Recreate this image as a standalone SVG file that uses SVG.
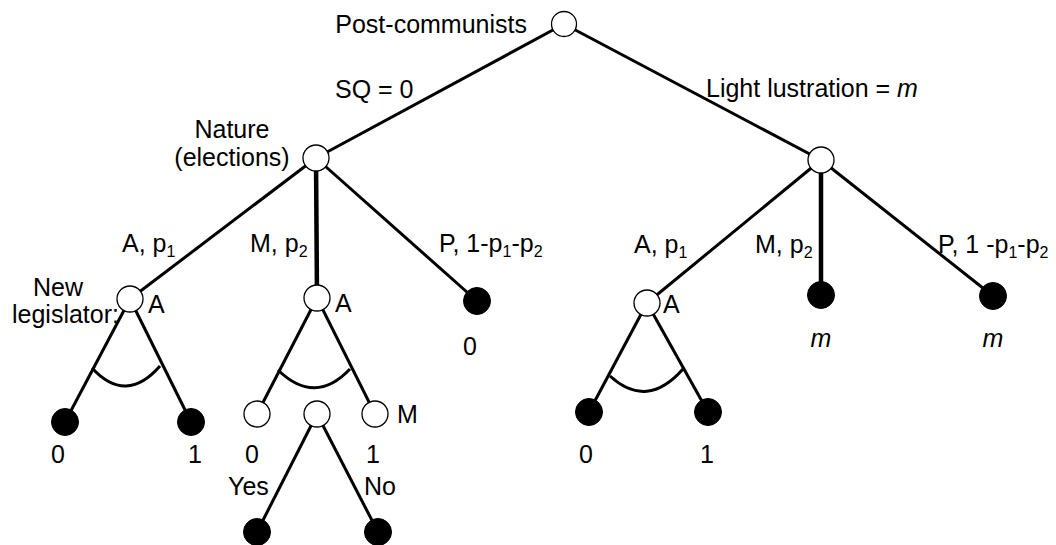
<svg xmlns="http://www.w3.org/2000/svg" width="1056" height="545" viewBox="0 0 1056 545">
<style>
text{font-family:"Liberation Sans",Arial,sans-serif;font-size:25px;fill:#000}
.s{font-size:16px}
.e{stroke:#000;stroke-width:3;fill:none}
.v{stroke:#000;stroke-width:4.5;fill:none}
.o{fill:#fff;stroke:#000;stroke-width:1.3}
.f{fill:#000;stroke:#000;stroke-width:1}
.i{font-style:italic}
</style>
<rect width="1056" height="545" fill="#fff"/>
<g id="connectors">
<line class="e" x1="564" y1="24" x2="316" y2="158"/>
<line class="e" x1="564" y1="24" x2="821" y2="160"/>
<line class="e" x1="316" y1="158" x2="130" y2="299"/>
<line class="v" x1="316" y1="158" x2="317" y2="298"/>
<line class="e" x1="316" y1="158" x2="477" y2="301"/>
<line class="e" x1="821" y1="160" x2="647" y2="303"/>
<line class="v" x1="821" y1="160" x2="821" y2="295"/>
<line class="e" x1="821" y1="160" x2="993" y2="296"/>
<line class="e" x1="130" y1="299" x2="65" y2="422"/>
<line class="e" x1="130" y1="299" x2="191" y2="422"/>
<line class="e" x1="317" y1="298" x2="257" y2="414"/>
<line class="e" x1="317" y1="298" x2="375" y2="414"/>
<line class="e" x1="317" y1="414" x2="257" y2="532"/>
<line class="e" x1="317" y1="414" x2="378" y2="532"/>
<line class="e" x1="647" y1="303" x2="589" y2="412"/>
<line class="e" x1="647" y1="303" x2="708" y2="412"/>
<path class="e" d="M92,368 Q126,405 160,366"/>
<path class="e" d="M278,370 Q315,406 350,369"/>
<path class="e" d="M610,376 Q647,410 683,369"/>
</g>
<g id="edge-labels">
<text x="335" y="98">SQ = 0</text>
<text x="706" y="97">Light lustration = <tspan class="i">m</tspan></text>
<text x="122" y="252">A, p<tspan class="s" dy="5">1</tspan></text>
<text x="250" y="252">M, p<tspan class="s" dy="5">2</tspan></text>
<text x="439" y="252">P, 1-p<tspan class="s" dy="5">1</tspan><tspan dy="-5">-p</tspan><tspan class="s" dy="5">2</tspan></text>
<text x="634" y="253">A, p<tspan class="s" dy="5">1</tspan></text>
<text x="755" y="253">M, p<tspan class="s" dy="5">2</tspan></text>
<text x="938" y="253">P, 1 -p<tspan class="s" dy="5">1</tspan><tspan dy="-5">-p</tspan><tspan class="s" dy="5">2</tspan></text>
<text x="228" y="495">Yes</text>
<text x="364" y="495">No</text>
</g>
<g id="root"><circle class="o" cx="564" cy="24" r="12.5"/><text x="527" y="33" text-anchor="end">Post-communists</text></g>
<g id="nature-left"><circle class="o" cx="316" cy="158" r="13"/><text x="232" y="138" text-anchor="middle">Nature</text><text x="232" y="166" text-anchor="middle">(elections)</text></g>
<g id="nature-right"><circle class="o" cx="821" cy="160" r="13"/></g>
<g id="legislator-A"><circle class="o" cx="130" cy="299" r="13"/><text x="148" y="313">A</text><text x="33" y="296">New</text><text x="12" y="323">legislator:</text></g>
<g id="mid-A"><circle class="o" cx="317" cy="298" r="13"/><text x="335" y="312">A</text></g>
<g id="left-P"><circle class="f" cx="477" cy="301" r="13.5"/><text x="470" y="355" text-anchor="middle">0</text></g>
<g id="right-A"><circle class="o" cx="647" cy="303" r="13"/><text x="663" y="313">A</text></g>
<g id="right-M"><circle class="f" cx="821" cy="295" r="13.5"/><text class="i" x="821" y="347" text-anchor="middle">m</text></g>
<g id="right-P"><circle class="f" cx="993" cy="296" r="13.5"/><text class="i" x="993" y="347" text-anchor="middle">m</text></g>
<g id="leaf-l0"><circle class="f" cx="65" cy="422" r="13.5"/><text x="58" y="463" text-anchor="middle">0</text></g>
<g id="leaf-l1"><circle class="f" cx="191" cy="422" r="13.5"/><text x="195" y="463" text-anchor="middle">1</text></g>
<g id="mid-0"><circle class="o" cx="257" cy="414" r="13"/><text x="252" y="463" text-anchor="middle">0</text></g>
<g id="mid-M"><circle class="o" cx="317" cy="414" r="13"/></g>
<g id="mid-1"><circle class="o" cx="375" cy="414" r="13"/><text x="397" y="423">M</text><text x="373" y="463" text-anchor="middle">1</text></g>
<g id="leaf-yes"><circle class="f" cx="257" cy="532" r="13.5"/></g>
<g id="leaf-no"><circle class="f" cx="378" cy="532" r="13.5"/></g>
<g id="leaf-r0"><circle class="f" cx="589" cy="412" r="13.5"/><text x="586" y="463" text-anchor="middle">0</text></g>
<g id="leaf-r1"><circle class="f" cx="708" cy="412" r="13.5"/><text x="707" y="463" text-anchor="middle">1</text></g>
</svg>
